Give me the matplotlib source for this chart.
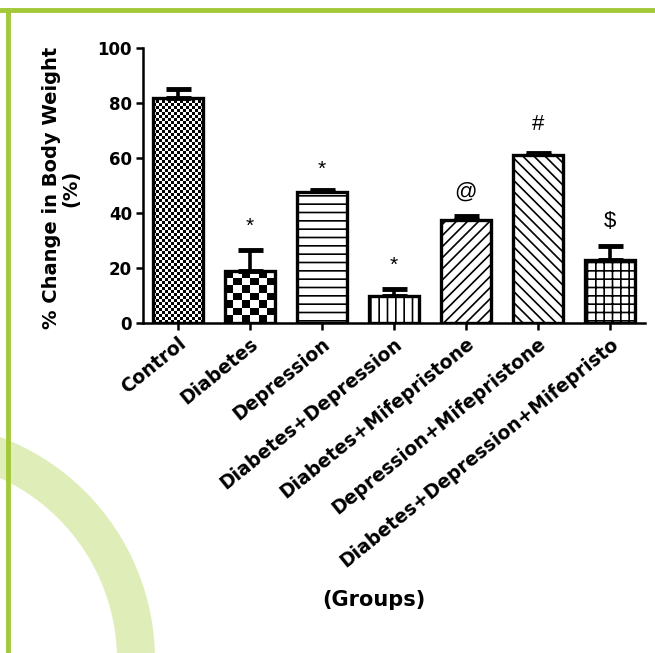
import numpy as np
import matplotlib
matplotlib.use('Agg')
import matplotlib.pyplot as plt
from matplotlib.patches import Wedge
from matplotlib.lines import Line2D
from matplotlib.transforms import IdentityTransform

groups = ['Control', 'Diabetes', 'Depression', 'Diabetes+Depression',
          'Diabetes+Mifepristone', 'Depression+Mifepristone',
          'Diabetes+Depression+Mifepristo']
means = [82, 19, 47.5, 10, 37.5, 61, 23]
errs = [3, 7.5, 1, 2.5, 1.5, 1, 5]
marks = ['', '*', '*', '*', '@', '#', '$']
mark_y = [0, 35, 56, 21, 47.5, 72, 37]

plt.rcParams['font.family'] = ['DejaVu Sans']
plt.rcParams['hatch.linewidth'] = 1.2

fig = plt.figure(figsize=(6.55, 6.53), dpi=100)

# watermark ring and frame
ring = Wedge((-83, -7), 238, 0, 90, width=38, transform=IdentityTransform(),
             facecolor='#dfedb9', edgecolor='none', zorder=0)
fig.add_artist(ring)
fig.add_artist(Line2D([0, 1], [1 - 10 / 653] * 2, transform=fig.transFigure,
                      color='#a3c93a', lw=3.5))
fig.add_artist(Line2D([8 / 655] * 2, [0, 1 - 10 / 653], transform=fig.transFigure,
                      color='#a3c93a', lw=3.5))

ax = fig.add_axes([143 / 655, 330 / 653, 502 / 655, 275 / 653])
ax.patch.set_alpha(0)
x = np.arange(len(groups))
w = 0.7

hatches = [None, None, '--', '||', '///', '\\\\\\', '++']
bars = ax.bar(x, means, width=w, color='white', edgecolor='black',
              linewidth=2.4, zorder=3)
for b, h in zip(bars, hatches):
    if h:
        b.set_hatch(h)

# checker fills for the first two bars
for i, cell in [(0, 3.0), (1, 8.0)]:
    b = bars[i]
    x0, bw, bh = b.get_x(), b.get_width(), b.get_height()
    nx = max(int(round(bw * 72 / cell)), 1)
    ny = max(int(round(bh * 2.75 / cell)), 1)
    pat = (np.add.outer(np.arange(ny), np.arange(nx)) % 2).astype(float)
    im = ax.imshow(pat, cmap='gray', extent=(x0, x0 + bw, 0, bh),
                   interpolation='nearest', aspect='auto', zorder=2)
    im.set_clip_path(b)
    b.set_facecolor('none')

ax.errorbar(x, means, yerr=[np.zeros(len(errs)), errs], fmt='none',
            ecolor='black', elinewidth=2.6, capsize=9, capthick=3.5, zorder=2)

for xi, m, y in zip(x, marks, mark_y):
    if m:
        fs = 15 if m == '*' else 16
        ax.text(xi, y, m, ha='center', va='center', fontsize=fs, zorder=4,
                family='Liberation Sans')

ax.set_xlim(-0.49, 6.49)
ax.set_ylim(0, 100)
ax.set_yticks([0, 20, 40, 60, 80, 100])
ax.set_xticks(x)
ax.set_xticklabels(groups, rotation=39, ha='right', rotation_mode='anchor',
                   fontsize=13.5, fontweight='bold')
for t in ax.get_yticklabels():
    t.set_fontweight('bold')
    t.set_fontsize(12)
ax.tick_params(axis='both', width=1.8, length=5, pad=3)
for s in ['top', 'right']:
    ax.spines[s].set_visible(False)
for s in ['left', 'bottom']:
    ax.spines[s].set_linewidth(1.8)
ax.set_ylabel('% Change in Body Weight\n(%)', fontsize=14, fontweight='bold',
              linespacing=1.0)
ax.yaxis.set_label_coords(-0.125, 0.49)
fig.text(374 / 655, 1 - 600 / 653, '(Groups)', ha='center', va='center',
         fontsize=15, fontweight='bold')

fig.savefig('out.png', dpi=100)
